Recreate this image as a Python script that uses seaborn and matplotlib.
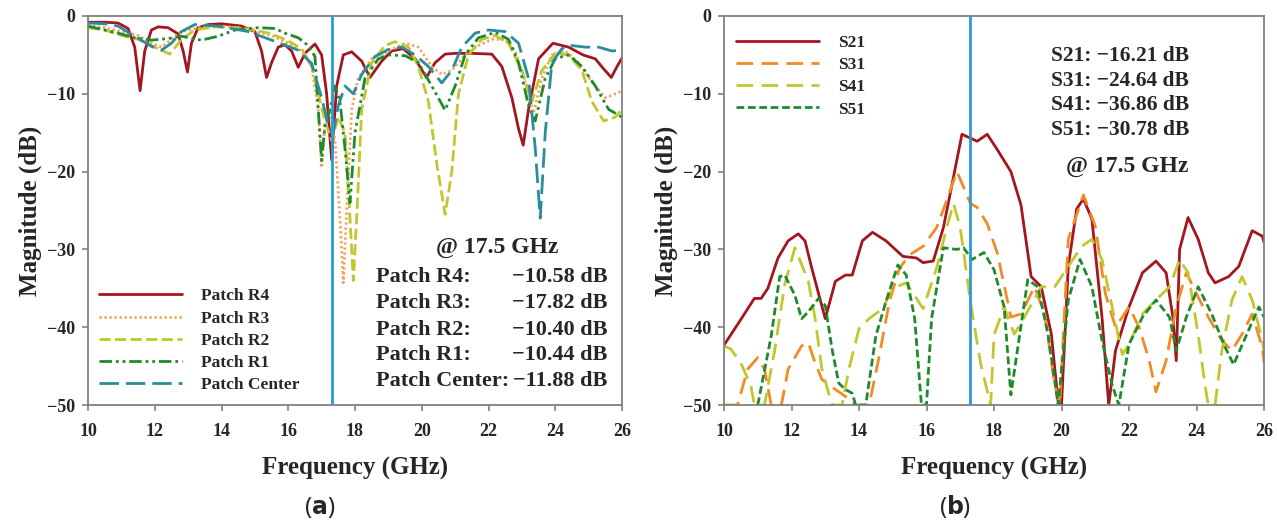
import matplotlib
matplotlib.use("Agg")
import matplotlib.pyplot as plt
import seaborn as sns

# ---------------- data: panel (a) ----------------
r4_f = [10.0, 10.5, 10.9, 11.2, 11.4, 11.56, 11.7, 11.9, 12.1, 12.4, 12.7, 12.85, 12.98, 13.1, 13.3, 13.6,
        14.0, 14.6, 15.0, 15.2, 15.35, 15.5, 15.7, 15.9, 16.1, 16.3, 16.5, 16.8, 17.0, 17.15, 17.3, 17.45,
        17.65, 17.9, 18.2, 18.45, 18.8, 19.1, 19.44, 19.8, 20.14, 20.4, 20.7, 21.0, 21.5, 22.1, 22.4, 22.7,
        22.9, 23.04, 23.2, 23.5, 23.93, 24.4, 24.83, 25.2, 25.45, 25.68, 25.85, 26.0]
r4_db = [-0.8, -0.8, -0.9, -1.6, -4.0, -9.6, -4.5, -1.8, -1.4, -1.5, -2.3, -4.5, -7.2, -3.5, -1.5, -1.1,
         -1.0, -1.3, -2.0, -4.5, -7.9, -6.0, -4.0, -3.7, -4.5, -6.6, -4.8, -3.6, -5.0, -10.0, -18.5, -9.0,
         -5.0, -4.6, -5.8, -7.9, -5.8, -4.5, -4.2, -5.5, -7.9, -6.0, -4.9, -4.8, -4.8, -4.9, -6.5, -10.5,
         -14.5, -16.6, -12.0, -5.5, -3.5, -4.0, -5.0, -5.5, -6.8, -7.9, -6.5, -5.4]

r3_f = [10.0, 10.5, 11.0, 11.5, 11.9, 12.2, 12.5, 12.8, 13.3, 14.0, 14.5, 15.0, 15.5, 16.0, 16.4, 16.7,
        16.9, 17.0, 17.1, 17.25, 17.4, 17.55, 17.65, 17.75, 17.9, 18.1, 18.5, 19.0, 19.5, 19.9, 20.3, 20.6,
        20.9, 21.3, 21.7, 22.1, 22.5, 22.8, 23.1, 23.35, 23.6, 23.9, 24.3, 24.7, 25.1, 25.5, 25.8, 26.0]
r3_db = [-1.2, -1.5, -2.0, -2.5, -3.5, -4.0, -3.0, -2.0, -1.5, -1.3, -1.5, -2.0, -2.5, -3.5, -4.5, -6.5,
         -12.0, -19.5, -14.0, -12.0, -16.0, -26.0, -34.3, -25.0, -12.0, -8.0, -5.5, -4.5, -3.5, -4.0, -6.5, -7.5,
         -7.0, -5.0, -3.8, -3.0, -3.0, -4.5, -8.5, -12.5, -8.0, -5.0, -4.5, -6.0, -8.5, -10.5, -10.0, -9.6]

r2_f = [10.0, 10.5, 11.0, 11.5, 12.0, 12.45, 12.8, 13.2, 13.8, 14.5, 15.0, 15.5, 16.0, 16.4, 16.7, 16.9,
        17.1, 17.3, 17.5, 17.7, 17.85, 17.95, 18.05, 18.2, 18.5, 18.9, 19.2, 19.6, 19.9, 20.2, 20.45, 20.7,
        20.9, 21.1, 21.4, 21.8, 22.2, 22.6, 23.0, 23.3, 23.6, 24.0, 24.4, 24.8, 25.1, 25.45, 25.8, 26.0]
r2_db = [-1.5, -1.8, -2.5, -3.0, -4.0, -4.9, -3.0, -1.8, -1.4, -1.5, -1.8, -2.3, -3.2, -4.2, -6.5, -10.0,
         -13.5, -16.0, -13.0, -15.0, -26.0, -34.0, -26.0, -12.0, -6.0, -3.8, -3.3, -4.0, -6.5, -11.0, -19.0, -25.5,
         -20.0, -10.0, -5.0, -3.0, -2.5, -3.5, -7.0, -11.0, -7.0, -4.8, -5.0, -7.0, -11.0, -13.5, -13.0, -12.0]

r1_f = [10.0, 10.5, 10.9, 11.4, 11.9, 12.4, 12.8, 13.4, 13.9, 14.4, 15.1, 15.6, 15.9, 16.3, 16.6, 16.8,
        16.9, 17.0, 17.1, 17.25, 17.4, 17.55, 17.7, 17.85, 18.0, 18.3, 18.7, 19.0, 19.5, 19.9, 20.3, 20.7,
        21.0, 21.3, 21.7, 22.2, 22.6, 22.9, 23.2, 23.4, 23.7, 24.0, 24.4, 24.8, 25.2, 25.6, 26.0]
r1_db = [-1.3, -1.8, -2.2, -2.8, -3.1, -2.9, -2.6, -3.1, -2.6, -1.8, -1.5, -1.6, -2.2, -2.8, -3.8, -5.2,
         -12.0, -18.6, -14.0, -12.0, -9.0, -11.0, -17.0, -24.0, -15.0, -8.0, -5.5, -5.0, -5.1, -6.0, -9.0, -12.1,
         -9.0, -5.0, -2.8, -2.1, -3.0, -6.0, -11.5, -13.5, -8.0, -5.5, -5.0, -6.5, -9.0, -12.0, -13.0]

rc_f = [10.0, 10.5, 10.9, 11.4, 11.9, 12.2, 12.5, 12.8, 13.2, 13.9, 14.8, 15.5, 16.3, 16.7, 17.0, 17.2,
        17.35, 17.5, 17.7, 17.95, 18.2, 18.6, 19.0, 19.4, 19.8, 20.2, 20.6, 20.9, 21.2, 21.6, 22.0, 22.5,
        22.9, 23.2, 23.4, 23.55, 23.7, 23.9, 24.2, 24.5, 24.9, 25.3, 25.7, 26.0]
rc_db = [-0.9, -1.0, -1.3, -2.6, -3.9, -4.4, -3.5, -2.0, -1.1, -1.3, -2.0, -3.1, -4.4, -6.1, -10.5, -14.0,
         -15.0, -11.5, -9.0, -10.0, -7.5, -5.2, -4.3, -4.0, -5.0, -6.5, -8.6, -7.0, -4.0, -2.2, -1.8, -2.0,
         -3.5, -8.0, -17.0, -26.0, -15.0, -6.0, -4.2, -3.8, -4.0, -4.0, -4.5, -4.4]

patch_names = ["Patch R4", "Patch R3", "Patch R2", "Patch R1", "Patch Center"]
patch_values = ["\u221210.58 dB", "\u221217.82 dB", "\u221210.40 dB", "\u221210.44 dB", "\u221211.88 dB"]

# ---------------- data: panel (b) ----------------
s21_f = [10.0, 10.5, 10.9, 11.1, 11.3, 11.6, 11.9, 12.2, 12.4, 12.6, 13.0, 13.3, 13.6, 13.8, 14.1, 14.4,
         14.8, 15.3, 15.7, 15.9, 16.2, 16.5, 16.8, 17.05, 17.3, 17.5, 17.8, 18.1, 18.5, 18.8, 19.1, 19.4,
         19.7, 19.9, 20.0, 20.2, 20.45, 20.65, 20.9, 21.2, 21.4, 21.6, 22.0, 22.4, 22.8, 23.1, 23.3, 23.4,
         23.5, 23.75, 24.05, 24.35, 24.55, 24.95, 25.25, 25.65, 25.95, 26.0]
s21_db = [-42.3, -39.0, -36.3, -36.3, -35.0, -31.1, -28.9, -28.0, -28.9, -32.4, -38.9, -34.1, -33.3, -33.3, -28.9, -27.8,
          -28.9, -30.9, -31.1, -31.7, -31.5, -27.2, -20.7, -15.2, -15.7, -16.1, -15.2, -17.2, -20.0, -24.3, -33.5, -34.8,
          -40.9, -49.6, -50.0, -32.2, -24.8, -23.5, -26.1, -38.7, -50.0, -43.0, -37.4, -33.0, -31.5, -33.0, -38.7, -44.3,
          -30.0, -25.9, -28.7, -33.0, -34.3, -33.5, -32.2, -27.6, -28.3, -29.1]

s31_f = [10.0, 10.4, 10.7, 11.0, 11.2, 11.4, 11.7, 11.9, 12.3, 12.5, 12.7, 12.9, 13.3, 13.6, 13.9, 14.3,
         14.6, 14.9, 15.2, 15.5, 15.9, 16.3, 16.6, 16.9, 17.1, 17.3, 17.5, 17.8, 18.1, 18.5, 18.8, 19.2,
         19.5, 19.8, 19.95, 20.2, 20.65, 21.0, 21.3, 21.6, 22.0, 22.3, 22.6, 22.8, 23.1, 23.4, 23.7, 24.0,
         24.35, 24.75, 25.05, 25.35, 25.65, 25.95, 26.0]
s31_db = [-50.0, -50.0, -45.4, -43.9, -45.4, -50.0, -50.0, -45.4, -42.4, -42.0, -44.6, -46.7, -48.0, -48.9, -50.0, -50.0,
          -43.7, -36.7, -32.4, -30.7, -29.6, -27.2, -23.7, -20.0, -22.0, -24.1, -24.6, -26.7, -30.5, -38.7, -38.3, -34.8,
          -38.3, -47.4, -50.0, -28.7, -23.0, -27.0, -35.7, -40.0, -37.4, -40.0, -44.3, -48.3, -44.3, -37.4, -33.0, -35.7,
          -38.7, -41.7, -43.0, -40.9, -38.3, -42.6, -44.5]

s41_f = [10.0, 10.2, 10.5, 10.8, 10.9, 11.2, 11.5, 11.8, 12.1, 12.5, 12.7, 12.9, 13.2, 13.5, 13.7, 14.0,
         14.3, 14.7, 15.0, 15.4, 15.9, 16.3, 16.6, 16.8, 17.0, 17.3, 17.6, 17.9, 18.0, 18.3, 18.6, 18.9,
         19.4, 19.8, 20.2, 20.6, 20.9, 21.2, 21.5, 21.8, 22.0, 22.4, 22.8, 23.2, 23.5, 23.75, 24.05, 24.25,
         24.35, 24.55, 24.75, 25.05, 25.35, 25.65, 25.95, 26.0]
s41_db = [-42.4, -42.8, -44.6, -47.6, -50.0, -50.0, -43.0, -34.5, -29.8, -34.1, -38.9, -45.4, -50.0, -50.0, -45.4, -40.2,
          -38.9, -37.6, -35.0, -34.3, -37.6, -32.4, -27.2, -24.1, -27.2, -36.7, -44.6, -50.0, -41.0, -37.4, -40.9, -38.7,
          -34.8, -34.8, -32.2, -29.6, -28.7, -31.3, -37.4, -43.5, -42.2, -38.3, -36.5, -34.8, -31.3, -33.0, -40.9, -47.4,
          -50.0, -50.0, -43.0, -36.5, -33.5, -36.5, -41.7, -43.0]

s51_f = [11.0, 11.4, 11.65, 11.8, 12.1, 12.3, 12.5, 12.8, 13.0, 13.2, 13.4, 13.6, 13.8, 13.9, 14.2, 14.5,
         14.8, 15.15, 15.4, 15.65, 15.85, 16.0, 16.15, 16.5, 16.9, 17.1, 17.35, 17.7, 18.0, 18.3, 18.5, 19.0,
         19.3, 19.6, 19.9, 20.2, 20.55, 20.9, 21.2, 21.5, 21.7, 22.0, 22.4, 22.8, 23.2, 23.4, 23.7, 24.05,
         24.45, 24.85, 25.1, 25.45, 25.85, 26.0]
s51_db = [-50.0, -41.1, -33.5, -33.3, -35.9, -38.9, -38.0, -36.3, -37.2, -42.8, -47.2, -48.0, -48.5, -50.0, -50.0, -41.1,
          -36.7, -32.0, -33.3, -38.9, -50.0, -50.0, -38.9, -29.8, -30.0, -29.8, -31.3, -30.4, -32.6, -37.4, -48.7, -33.9,
          -34.8, -40.9, -50.0, -36.5, -31.3, -34.8, -41.7, -47.4, -50.0, -42.2, -38.7, -36.5, -38.7, -43.0, -38.7, -34.8,
          -38.3, -42.6, -44.8, -41.3, -37.4, -38.7]

s_names = ["S21", "S31", "S41", "S51"]
s_values = ["\u221216.21 dB", "\u221224.64 dB", "\u221236.86 dB", "\u221230.78 dB"]

marker_freq = 17.3
x_ticks = [10, 12, 14, 16, 18, 20, 22, 24, 26]
y_ticks = [-50, -40, -30, -20, -10, 0]
freq_note = "@ 17.5 GHz"

# ---------------- styling ----------------
sns.set_style("ticks")
plt.rcParams['font.family'] = ['Liberation Serif', 'DejaVu Serif']
plt.rcParams['font.weight'] = 'bold'
plt.rcParams['axes.labelweight'] = 'bold'

RED = "#A3161D"
ORANGE_DOT = "#F4A15A"
ORANGE = "#F28A26"
YEL = "#C3C62C"
GREEN = "#1F8A2B"
TEAL = "#2A8C9C"
BLUE = "#2A9AD8"
SPINE = "#808080"

W, H = 1277, 524
fig = plt.figure(figsize=(W / 100, H / 100), dpi=100)
axA = fig.add_axes([88 / W, 1 - 405 / H, 534 / W, 389 / H])
axB = fig.add_axes([724 / W, 1 - 405 / H, 540 / W, 389 / H])

LW = 2.0
seriesA = [
    (r4_f, r4_db, RED, '-', patch_names[0]),
    (r3_f, r3_db, ORANGE_DOT, (0, (0.8, 1.0)), patch_names[1]),
    (r2_f, r2_db, YEL, (0, (4, 1.6)), patch_names[2]),
    (r1_f, r1_db, GREEN, (0, (4.5, 1.4, 1, 1.4, 1, 1.4)), patch_names[3]),
    (rc_f, rc_db, TEAL, (0, (7, 2.5)), patch_names[4]),
]
for f, d, c, ls, name in seriesA:
    sns.lineplot(x=f, y=d, ax=axA, color=c, linestyle=ls, lw=LW, label=name,
                 estimator=None, sort=False)

seriesB = [
    (s21_f, s21_db, RED, '-', s_names[0]),
    (s31_f, s31_db, ORANGE, (0, (6, 3)), s_names[1]),
    (s41_f, s41_db, YEL, (0, (6, 3)), s_names[2]),
    (s51_f, s51_db, GREEN, (0, (2.8, 1.3)), s_names[3]),
]
for f, d, c, ls, name in seriesB:
    sns.lineplot(x=f, y=d, ax=axB, color=c, linestyle=ls, lw=LW, label=name,
                 estimator=None, sort=False)

for ax in (axA, axB):
    ax.axvline(marker_freq, color=BLUE, lw=2.0, zorder=5)
    ax.set_xlim(10, 26)
    ax.set_ylim(-50, 0)
    ax.set_xticks(x_ticks)
    ax.set_yticks(y_ticks)
    ax.set_yticklabels([("\u2212%d" % -v) if v < 0 else "0" for v in y_ticks])
    ax.tick_params(direction='out', length=4, width=1.2, color=SPINE, labelsize=13)
    ax.tick_params(axis='x', pad=9)
    ax.tick_params(axis='y', pad=5)
    for lab in ax.get_xticklabels() + ax.get_yticklabels():
        lab.set_fontweight('bold')
    for sp in ax.spines.values():
        sp.set_visible(True)
        sp.set_color(SPINE)
        sp.set_linewidth(1.3)
    ax.set_xlabel("Frequency (GHz)", fontsize=18, fontweight='bold', labelpad=12)
    ax.set_ylabel("Magnitude (dB)", fontsize=18, fontweight='bold', labelpad=4)

legA = axA.legend(loc='lower left', bbox_to_anchor=(0.02, 0.03), frameon=False,
                  borderaxespad=0, borderpad=0, handlelength=4.8, handletextpad=1.1,
                  labelspacing=0.35, prop={'size': 12.5, 'weight': 'bold'})
legB = axB.legend(loc='upper left', bbox_to_anchor=(0.022, 0.952), frameon=False,
                  borderaxespad=0, borderpad=0, handlelength=4.8, handletextpad=1.1,
                  labelspacing=0.35, prop={'size': 12.5, 'weight': 'bold'})

# annotations panel (a)
axA.text(22.25, -29.7, freq_note, ha='center', va='center', fontsize=17, fontweight='bold')
rowsA = [-33.6, -36.9, -40.3, -43.6, -46.9]
for name, val, y in zip(patch_names, patch_values, rowsA):
    axA.text(18.64, y, name + ":", ha='left', va='center', fontsize=16, fontweight='bold')
    axA.text(25.57, y, val, ha='right', va='center', fontsize=16, fontweight='bold')

# annotations panel (b): one block of four lines
blockB = "\n".join(n + ": " + v for n, v in zip(s_names, s_values))
axB.text(19.7, -9.9, blockB, ha='left', va='center', fontsize=15.5, fontweight='bold',
         linespacing=1.32, multialignment='left')
axB.text(21.95, -19.4, freq_note, ha='center', va='center', fontsize=17, fontweight='bold')

fig.text(320 / W, 1 - 507 / H, r"($\mathbf{a}$)", ha='center', va='center', fontsize=17,
         family=['Noto Sans', 'DejaVu Sans'], fontweight='normal')
fig.text(955 / W, 1 - 507 / H, r"($\mathbf{b}$)", ha='center', va='center', fontsize=17,
         family=['Noto Sans', 'DejaVu Sans'], fontweight='normal')

fig.savefig("out.png", dpi=100)
